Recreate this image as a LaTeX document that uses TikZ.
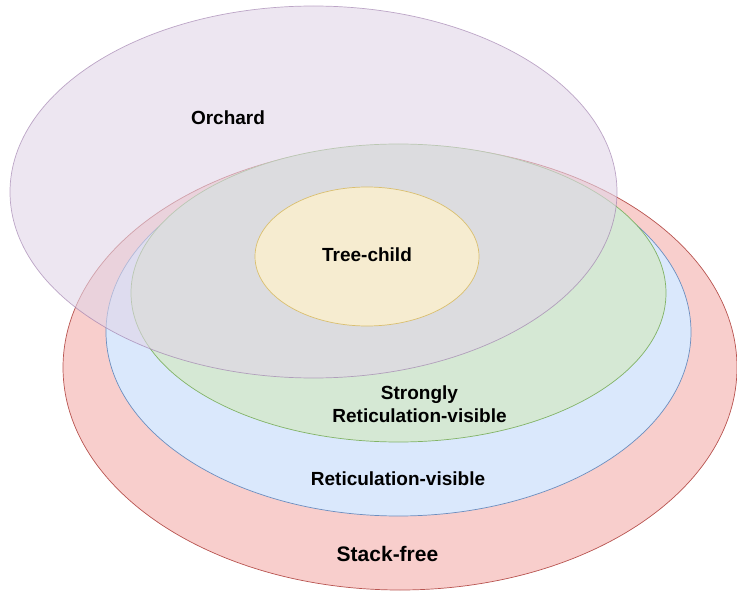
\documentclass[tikz,border=0pt]{standalone}
\usepackage{fontspec}
\setmainfont{Liberation Sans}
\definecolor{redfill}{HTML}{F8CECC}\definecolor{redline}{HTML}{B85450}
\definecolor{bluefill}{HTML}{DAE8FC}\definecolor{blueline}{HTML}{6C8EBF}
\definecolor{greenfill}{HTML}{D5E8D4}\definecolor{greenline}{HTML}{82B366}
\definecolor{purplefill}{HTML}{E1D5E7}\definecolor{purpleline}{HTML}{9673A6}
\definecolor{yellowfill}{HTML}{FFF2CC}\definecolor{yellowline}{HTML}{D6B656}
\begin{document}
\begin{tikzpicture}[x=1pt,y=-1pt,
  setshape/.style={line width=0.7pt},
  lbl/.style={anchor=base,inner sep=0pt,font=\bfseries\fontsize{19}{22}\selectfont}]
\useasboundingbox (0,0) rectangle (737,591);
\filldraw[setshape,fill=redfill,draw=redline] (400,367.5) ellipse [x radius=337,y radius=222.5];
\filldraw[setshape,fill=bluefill,draw=blueline] (398.5,332) ellipse [x radius=292.5,y radius=184];
\filldraw[setshape,fill=greenfill,draw=greenline] (398.5,293) ellipse [x radius=267.5,y radius=149];
\filldraw[setshape,fill=purplefill,draw=purpleline,fill opacity=0.6,draw opacity=0.6] (313.5,192) ellipse [x radius=303.5,y radius=186];
\filldraw[setshape,fill=yellowfill,draw=yellowline,fill opacity=0.75,draw opacity=0.8] (367,256.5) ellipse [x radius=112,y radius=69.5];
\node[lbl] (orchard) at (228,124.4) {Orchard};
\node[lbl] (treechild) at (367,261.7) {Tree-child};
\node[lbl] (strongly) at (419.5,399.3) {Strongly};
\node[lbl] (strongrv) at (419.5,422.3) {Reticulation-visible};
\node[lbl] (rv) at (398,485) {Reticulation-visible};
\node[lbl,font=\bfseries\fontsize{21}{24}\selectfont] (stackfree) at (387.5,561.7) {Stack-free};
\end{tikzpicture}
\end{document}
